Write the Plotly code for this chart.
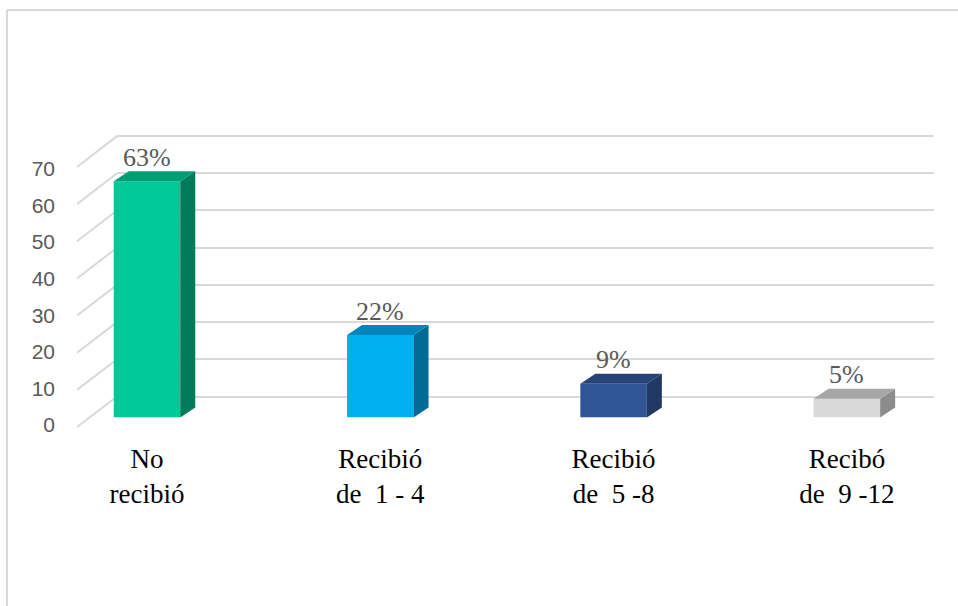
import plotly.graph_objects as go

# ---- data ----
categories = ["No<br>recibió", "Recibió<br>de  1 - 4", "Recibió<br>de  5 -8", "Recibó<br>de  9 -12"]
values = [63, 22, 9, 5]
labels = [f"{v}%" for v in values]
axis_ticks = [0, 10, 20, 30, 40, 50, 60, 70]

front_colors = ["#00C896", "#00B0F0", "#2F5597", "#D9D9D9"]
side_colors = ["#007C5C", "#006C96", "#1F3864", "#8C8C8C"]
top_colors = ["#009E74", "#0086B8", "#264478", "#A6A6A6"]

SERIF = "Liberation Serif, Times New Roman, DejaVu Serif, serif"
SANS = "Liberation Sans, Arial, sans-serif"

W, H = 958, 606
def px(p):
    return p / W
def py(p):
    return 1 - p / H

SPACING = 233.3          # px between category centres
FIRST = 147.0            # px centre of the first bar
YSCALE = 3.75            # px per unit on the bar axis
bar_w = 66.5 / SPACING
dx = 15 / SPACING
dy = 10 / YSCALE
GRID_SCALE = 3.72        # px per unit on the back wall

fig = go.Figure()

# front faces
fig.add_trace(go.Bar(
    x=list(range(len(values))), y=values, width=bar_w,
    marker=dict(color=front_colors, line=dict(width=0)),
    xaxis="x3", yaxis="y3", hoverinfo="skip", showlegend=False,
))

# side and top faces (3D look)
for i, v in enumerate(values):
    hw = bar_w / 2
    fig.add_trace(go.Scatter(
        x=[i + hw, i + hw + dx, i + hw + dx, i + hw, i + hw],
        y=[0, dy, v + dy, v, 0],
        fill="toself", fillcolor=side_colors[i], mode="lines",
        line=dict(width=0), xaxis="x3", yaxis="y3",
        hoverinfo="skip", showlegend=False,
    ))
    fig.add_trace(go.Scatter(
        x=[i - hw, i - hw + dx, i + hw + dx, i + hw, i - hw],
        y=[v, v + dy, v + dy, v, v],
        fill="toself", fillcolor=top_colors[i], mode="lines",
        line=dict(width=0), xaxis="x3", yaxis="y3",
        hoverinfo="skip", showlegend=False,
    ))

# invisible traces so the helper subplots render
fig.add_trace(go.Scatter(x=[0], y=[0], mode="markers", marker=dict(opacity=0),
                         xaxis="x", yaxis="y", hoverinfo="skip", showlegend=False))
fig.add_trace(go.Scatter(x=[0], y=[0], mode="markers", marker=dict(opacity=0),
                         xaxis="x2", yaxis="y2", hoverinfo="skip", showlegend=False))

# data labels
annotations = []
for i, v in enumerate(values):
    annotations.append(dict(
        x=i, y=v, xref="x3", yref="y3", text=labels[i], showarrow=False,
        yanchor="middle", xanchor="center", yshift=24,
        font=dict(family=SERIF, size=26, color="#595959"),
    ))

# side-wall diagonal gridlines + chart border
shapes = []
for t in axis_ticks:
    shapes.append(dict(
        type="line", xref="paper", yref="paper",
        x0=px(77), y0=py(427 - t * 3.714), x1=px(117), y1=py(396.5 - t * GRID_SCALE),
        line=dict(color="#D9D9D9", width=2), layer="below",
    ))
shapes.append(dict(type="line", xref="paper", yref="paper", x0=px(7), y0=0, x1=px(7), y1=py(10),
                   line=dict(color="#D9D9D9", width=2)))
shapes.append(dict(type="line", xref="paper", yref="paper", x0=px(7), y0=py(10), x1=1, y1=py(10),
                   line=dict(color="#D9D9D9", width=2)))

fig.update_layout(
    template="none",
    width=W, height=H,
    margin=dict(l=0, r=0, t=0, b=0, pad=0),
    paper_bgcolor="white", plot_bgcolor="rgba(0,0,0,0)",
    showlegend=False,
    # back-wall gridlines (range padded by 1 unit so the edge lines are drawn)
    xaxis=dict(domain=[px(117), px(934)], range=[0, 1], visible=False, automargin=False),
    yaxis=dict(domain=[py(396.5 + GRID_SCALE), py(136 - GRID_SCALE)], range=[-1, 71],
               tickvals=axis_ticks,
               showgrid=True, gridcolor="#D9D9D9", gridwidth=2, zeroline=False,
               showticklabels=False, showline=False, ticks="", anchor="x", automargin=False),
    # front tick labels
    xaxis2=dict(domain=[0, 1], range=[0, 1], visible=False, anchor="y2", automargin=False),
    yaxis2=dict(domain=[py(425), py(169)], range=[0, 70], tickvals=axis_ticks,
                showgrid=False, zeroline=False, showline=False, ticks="",
                anchor="free", position=px(55), side="left", automargin=False,
                tickfont=dict(family=SANS, size=21, color="#595959")),
    # bars
    xaxis3=dict(domain=[0, 1], range=[-FIRST / SPACING, (W - FIRST) / SPACING],
                tickvals=list(range(len(categories))), ticktext=categories,
                showgrid=False, zeroline=False, showline=False, ticks="",
                ticklabelstandoff=22, anchor="y3", automargin=False,
                tickfont=dict(family=SERIF, size=27, color="#000000")),
    yaxis3=dict(domain=[py(417.5), py(117.5)], range=[0, 80], visible=False,
                anchor="x3", automargin=False),
    annotations=annotations,
    shapes=shapes,
)

fig.write_html("out.html", config={"displayModeBar": False},
               post_script="document.body.style.margin='0px';")
